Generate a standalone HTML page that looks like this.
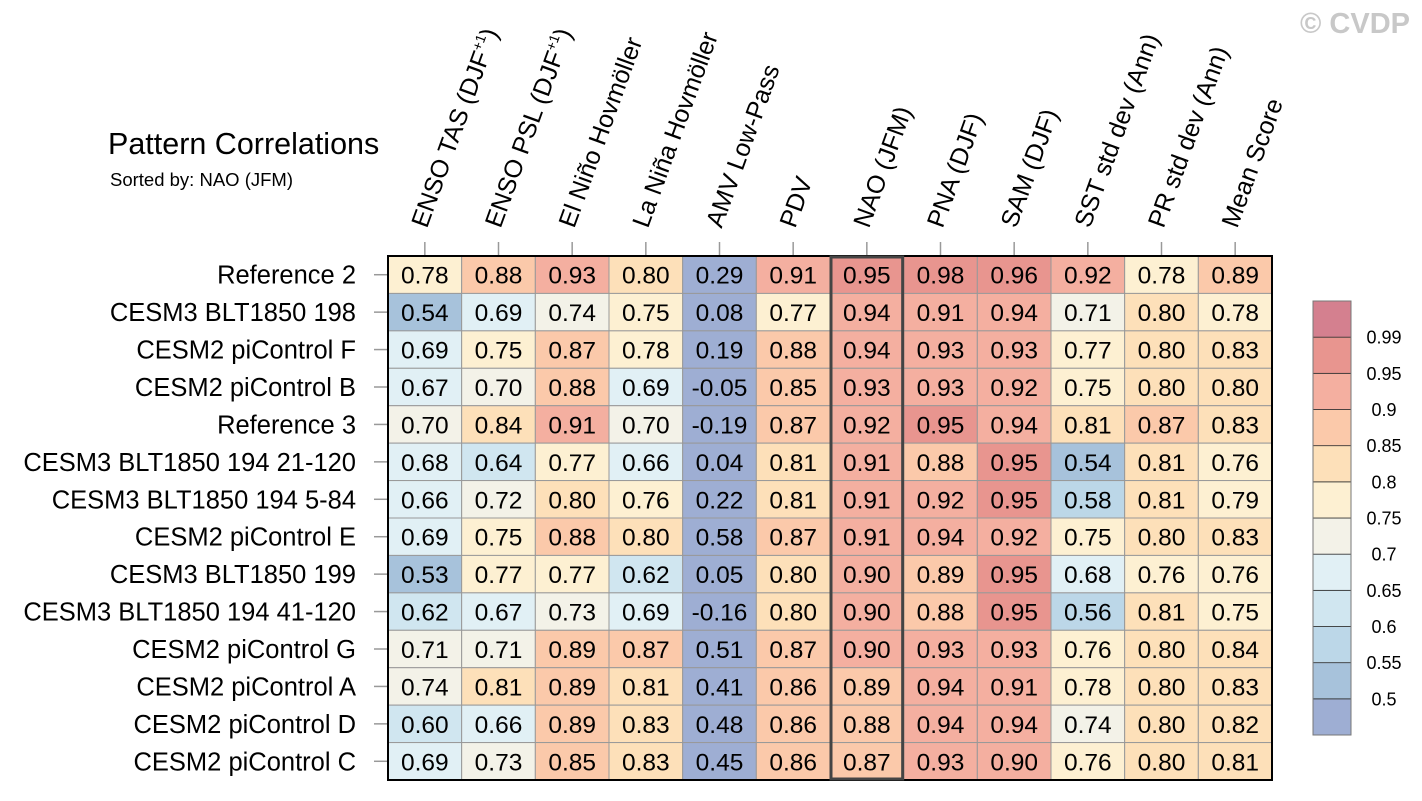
<!DOCTYPE html>
<html><head><meta charset="utf-8"><style>
html,body{margin:0;padding:0;background:#fff;width:1422px;height:801px;overflow:hidden}
svg{display:block;font-family:"Liberation Sans",sans-serif}
</style></head><body>
<svg id="chart" width="1422" height="801" viewBox="0 0 1422 801" xmlns="http://www.w3.org/2000/svg">
<text x="1410" y="33" text-anchor="end" font-size="29" font-weight="bold" fill="#c8c8c8">© CVDP</text>
<text x="108" y="154" font-size="30.5" fill="#000">Pattern Correlations</text>
<text x="110" y="186" font-size="18.5" fill="#000">Sorted by: NAO (JFM)</text>
<g id="grid"></g>
<g id="cbar"></g>
</svg>
<script>
const columns = ["ENSO TAS (DJF+1)","ENSO PSL (DJF+1)","El Niño Hovmöller","La Niña Hovmöller","AMV Low-Pass","PDV","NAO (JFM)","PNA (DJF)","SAM (DJF)","SST std dev (Ann)","PR std dev (Ann)","Mean Score"];
const rows = ["Reference 2","CESM3 BLT1850 198","CESM2 piControl F","CESM2 piControl B","Reference 3","CESM3 BLT1850 194 21-120","CESM3 BLT1850 194 5-84","CESM2 piControl E","CESM3 BLT1850 199","CESM3 BLT1850 194 41-120","CESM2 piControl G","CESM2 piControl A","CESM2 piControl D","CESM2 piControl C"];
const values = [
[0.78,0.88,0.93,0.80,0.29,0.91,0.95,0.98,0.96,0.92,0.78,0.89],
[0.54,0.69,0.74,0.75,0.08,0.77,0.94,0.91,0.94,0.71,0.80,0.78],
[0.69,0.75,0.87,0.78,0.19,0.88,0.94,0.93,0.93,0.77,0.80,0.83],
[0.67,0.70,0.88,0.69,-0.05,0.85,0.93,0.93,0.92,0.75,0.80,0.80],
[0.70,0.84,0.91,0.70,-0.19,0.87,0.92,0.95,0.94,0.81,0.87,0.83],
[0.68,0.64,0.77,0.66,0.04,0.81,0.91,0.88,0.95,0.54,0.81,0.76],
[0.66,0.72,0.80,0.76,0.22,0.81,0.91,0.92,0.95,0.58,0.81,0.79],
[0.69,0.75,0.88,0.80,0.58,0.87,0.91,0.94,0.92,0.75,0.80,0.83],
[0.53,0.77,0.77,0.62,0.05,0.80,0.90,0.89,0.95,0.68,0.76,0.76],
[0.62,0.67,0.73,0.69,-0.16,0.80,0.90,0.88,0.95,0.56,0.81,0.75],
[0.71,0.71,0.89,0.87,0.51,0.87,0.90,0.93,0.93,0.76,0.80,0.84],
[0.74,0.81,0.89,0.81,0.41,0.86,0.89,0.94,0.91,0.78,0.80,0.83],
[0.60,0.66,0.89,0.83,0.48,0.86,0.88,0.94,0.94,0.74,0.80,0.82],
[0.69,0.73,0.85,0.83,0.45,0.86,0.87,0.93,0.90,0.76,0.80,0.81]];
const levels = [0.5,0.55,0.6,0.65,0.7,0.75,0.8,0.85,0.9,0.95,0.99];
const levelLabels = ["0.5","0.55","0.6","0.65","0.7","0.75","0.8","0.85","0.9","0.95","0.99"];
const palette = ["#9eaed3","#a7c2db","#bcd7e8","#d0e6f0","#e1f0f5","#f3f2e8","#fdf0d2","#fde0b9","#fbc9aa","#f4afa0","#e8958f","#d4808f"];
const lowestBinCols = [4];
const highlightCol = 6;

const NS="http://www.w3.org/2000/svg";
function mk(tag,attrs,parent){const e=document.createElementNS(NS,tag);for(const k in attrs)e.setAttribute(k,attrs[k]);parent.appendChild(e);return e;}
const L=388,T=256,R=1272,B=780;
const cw=(R-L)/columns.length, rh=(B-T)/rows.length;
const xC=i=>L+i*cw, yR=j=>T+j*rh;
function colorOf(v,i){if(lowestBinCols.includes(i))return palette[0];let b=0;for(let k=0;k<levels.length;k++){if(v>=levels[k]-1e-9)b=k+1;}return palette[b];}
const g=document.getElementById('grid');
rows.forEach((r,j)=>{
  const t=mk('text',{x:356,y:yR(j)+rh/2+9,'text-anchor':'end','font-size':25.5,fill:'#000'},g);t.textContent=r;
  
  
  const tk=mk('line',{x1:374,x2:L,y1:yR(j)+rh/2,y2:yR(j)+rh/2,stroke:'#999','stroke-width':1.5},g);
  
  
  values[j].forEach((v,i)=>{
    const c=mk('rect',{x:xC(i),y:yR(j),width:cw,height:rh,fill:colorOf(v,i),stroke:'#999','stroke-width':1},g);
    
    
    const tx=mk('text',{x:xC(i)+cw/2,y:yR(j)+rh/2+9,'text-anchor':'middle','font-size':24.5,fill:'#000'},g);tx.textContent=v.toFixed(2);
    
    
  });
});
columns.forEach((c,i)=>{
  const cx=xC(i)+cw/2;
  const tk=mk('line',{x1:cx,x2:cx,y1:242,y2:T,stroke:'#999','stroke-width':1.5},g);
  
  
  const ax=cx+2, ay=229;
  const t=mk('text',{x:ax,y:ay,'font-size':25,fill:'#000',transform:`rotate(-70 ${ax} ${ay})`},g);
  
  
  const m=c.match(/^(.*)\(DJF\+1\)$/);
  if(m){t.textContent=m[1]+'(DJF';const s=mk('tspan',{'font-size':14,dy:-10},t);s.textContent='+1';const s2=mk('tspan',{dy:10},t);s2.textContent=')';}
  else t.textContent=c;
});
const fr=mk('rect',{x:L,y:T,width:R-L,height:B-T,fill:'none',stroke:'#000','stroke-width':2},g);


const hb=mk('rect',{x:xC(highlightCol)+1,y:T+1,width:cw-2,height:B-T-2,fill:'none',stroke:'#444','stroke-width':3},g);



const cb=document.getElementById('cbar');
const cbT=301,cbB=735,cbL=1313,cbW=38,nb=palette.length,bh=(cbB-cbT)/nb;
palette.forEach((p,k)=>{
  const y=cbB-(k+1)*bh;
  const r=mk('rect',{x:cbL,y:y,width:cbW,height:bh,fill:p,stroke:'#333','stroke-width':0.8},cb);
  
  
});
levelLabels.forEach((l,k)=>{
  const y=cbB-(k+1)*bh;
  const t=mk('text',{x:1384,y:y+6.5,'text-anchor':'middle','font-size':18,fill:'#000'},cb);t.textContent=l;
  
  
});
const cf=mk('rect',{x:cbL,y:cbT,width:cbW,height:cbB-cbT,fill:'none',stroke:'#777','stroke-width':1},cb);


</script>
</body></html>
